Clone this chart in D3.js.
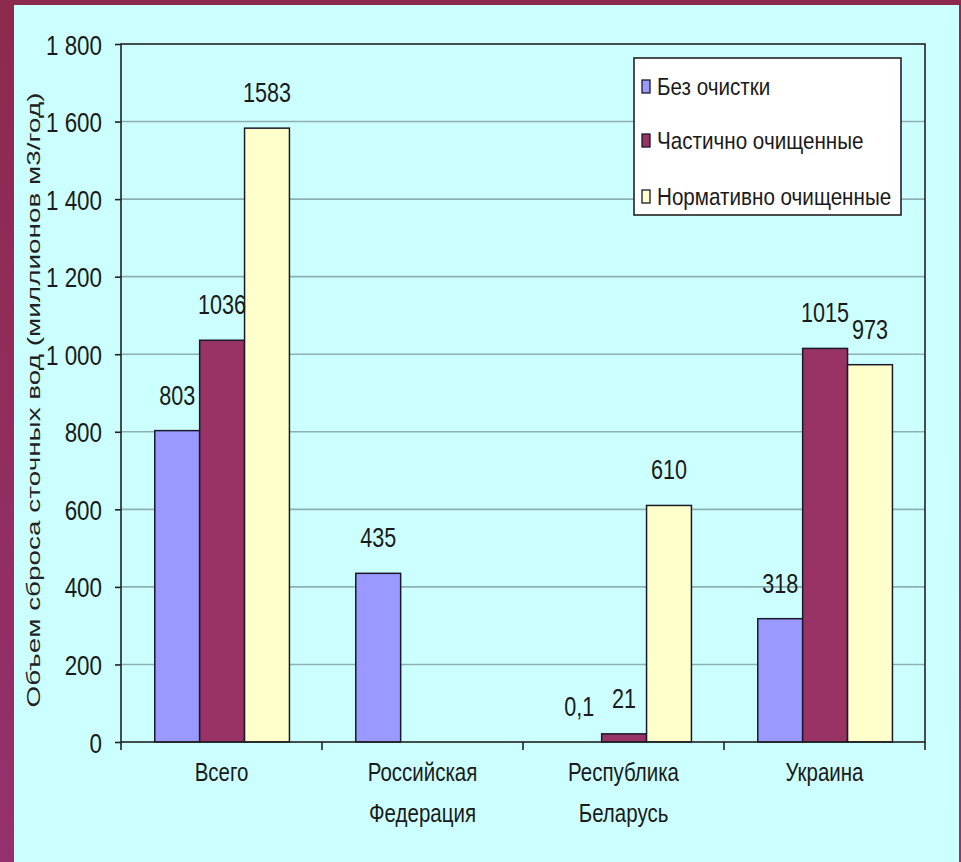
<!DOCTYPE html>
<html>
<head>
<meta charset="utf-8">
<script src="https://cdn.jsdelivr.net/npm/d3@7/dist/d3.min.js"></script>
<style>
  html, body { margin: 0; padding: 0; background: #8e2c55; }
  svg { display: block; }
</style>
</head>
<body>
<svg id="chart" width="961" height="862"></svg>
<script>
// ---- data ----
const categories = ["Всего", "Российская Федерация", "Республика Беларусь", "Украина"];
const categoryLines = [["Всего"], ["Российская", "Федерация"], ["Республика", "Беларусь"], ["Украина"]];
const seriesNames = ["Без очистки", "Частично очищенные", "Нормативно очищенные"];
const bezOchistki = [803, 435, 0.1, 318];
const chastichno = [1036, 0, 21, 1015];
const normativno = [1583, 0, 610, 973];
const tickValues = [0, 200, 400, 600, 800, 1000, 1200, 1400, 1600, 1800];
const tickLabels = ["0", "200", "400", "600", "800", "1 000", "1 200", "1 400", "1 600", "1 800"];
const yTitle = "Объем сброса сточных вод (миллионов м3/год)";

const seriesValues = [bezOchistki, chastichno, normativno];
const colors = ["#9999ff", "#993366", "#ffffcc"];

const svg = d3.select("#chart");
const W = 961, H = 862;
const narrow = "'Liberation Sans Narrow', 'Arial Narrow', sans-serif";

// background
const defs = svg.append("defs");
const grad = defs.append("linearGradient").attr("id", "bg").attr("x1", 0).attr("y1", 0).attr("x2", 0).attr("y2", 1);
grad.append("stop").attr("offset", "0%").attr("stop-color", "#8c2a4d");
grad.append("stop").attr("offset", "100%").attr("stop-color", "#95306e");
svg.append("rect").attr("width", W).attr("height", H).attr("fill", "url(#bg)");
svg.append("rect").attr("x", 14).attr("y", 5).attr("width", 945).attr("height", H).attr("fill", "#ccffff");

// scales
const plot = { left: 121, right: 925, top: 44, bottom: 742 };
const y = d3.scaleLinear().domain([0, 1800]).range([plot.bottom, plot.top]);
const x0 = d3.scaleBand().domain(categories).range([plot.left, plot.right]).paddingInner(0).paddingOuter(0);
const bw = x0.bandwidth();
const x1 = d3.scaleBand().domain(seriesNames).range([bw * 0.168, bw * 0.838]).padding(0);

// gridlines
svg.append("g").selectAll("line").data(tickValues.filter(v => v > 0 && v < 1800)).join("line")
  .attr("x1", plot.left).attr("x2", plot.right)
  .attr("y1", d => y(d)).attr("y2", d => y(d))
  .attr("stroke", "#8fb0b0").attr("stroke-width", 1.6);

// bars
const rows = [];
categories.forEach((c, ci) => {
  seriesNames.forEach((s, si) => rows.push({ c, s, si, v: seriesValues[si][ci] }));
});
svg.append("g").selectAll("rect").data(rows.filter(d => y(0) - y(d.v) >= 1)).join("rect")
  .attr("x", d => x0(d.c) + x1(d.s))
  .attr("width", x1.bandwidth())
  .attr("y", d => y(d.v))
  .attr("height", d => y(0) - y(d.v))
  .attr("fill", d => colors[d.si])
  .attr("stroke", "#1a1a2a").attr("stroke-width", 1.5);

// data labels
const sxLabel = 0.8;
svg.append("g").selectAll("text").data(rows.filter(d => d.v > 0)).join("text")
  .attr("transform", d => `translate(${x0(d.c) + x1(d.s) + x1.bandwidth() / 2},${y(d.v) - 26}) scale(${sxLabel},1)`)
  .attr("text-anchor", "middle")
  .attr("font-family", narrow).attr("font-size", 27).attr("fill", "#1a1a1a")
  .text(d => String(d.v).replace(".", ","));

// plot border
svg.append("rect").attr("x", plot.left).attr("y", plot.top)
  .attr("width", plot.right - plot.left).attr("height", plot.bottom - plot.top)
  .attr("fill", "none").attr("stroke", "#222").attr("stroke-width", 1.6);

// y axis
const sxTick = 0.8;
const yAxis = d3.axisLeft(y).tickValues(tickValues).tickSize(6).tickPadding(0)
  .tickFormat((d, i) => tickLabels[i]);
const ga = svg.append("g").attr("transform", `translate(${plot.left},0)`).call(yAxis);
ga.select(".domain").remove();
ga.selectAll(".tick line").attr("stroke", "#222").attr("stroke-width", 1.6);
ga.selectAll(".tick text")
  .attr("font-family", narrow).attr("font-size", 28).attr("fill", "#1a1a1a")
  .attr("x", -19 / sxTick).attr("dy", "0.36em")
  .attr("transform", `scale(${sxTick},1)`);

// x axis ticks at category boundaries
const bounds = categories.map(c => x0(c)).concat([plot.right]);
svg.append("g").selectAll("line").data(bounds).join("line")
  .attr("x1", d => d).attr("x2", d => d)
  .attr("y1", plot.bottom).attr("y2", plot.bottom + 8)
  .attr("stroke", "#222").attr("stroke-width", 1.6);

// category labels
const sxCat = 0.82;
const cg = svg.append("g");
categories.forEach((c, ci) => {
  categoryLines[ci].forEach((line, li) => {
    cg.append("text")
      .attr("transform", `translate(${x0(c) + bw / 2},${781 + li * 41}) scale(${sxCat},1)`)
      .attr("text-anchor", "middle")
      .attr("font-family", narrow).attr("font-size", 25).attr("fill", "#1a1a1a")
      .text(line);
  });
});

// y title
svg.append("text")
  .attr("transform", `translate(40,400) rotate(-90)`)
  .attr("text-anchor", "middle")
  .attr("font-family", "'Liberation Sans', Arial, sans-serif").attr("font-size", 18).attr("fill", "#222")
  .attr("textLength", 615).attr("lengthAdjust", "spacingAndGlyphs")
  .text(yTitle);

// legend
const sxLeg = 0.86;
const lg = svg.append("g");
lg.append("rect").attr("x", 634).attr("y", 58).attr("width", 267).attr("height", 157)
  .attr("fill", "#ffffff").attr("stroke", "#222").attr("stroke-width", 1.6);
const legendY = [87, 141, 197];
seriesNames.forEach((s, i) => {
  lg.append("rect").attr("x", 642).attr("y", legendY[i] - 7).attr("width", 8).attr("height", 13)
    .attr("fill", colors[i]).attr("stroke", "#1a1a2a").attr("stroke-width", 1.3);
  lg.append("text")
    .attr("transform", `translate(657,${legendY[i] + 8}) scale(${sxLeg},1)`)
    .attr("font-family", narrow).attr("font-size", 24).attr("fill", "#1a1a1a")
    .text(s);
});
</script>
</body>
</html>
